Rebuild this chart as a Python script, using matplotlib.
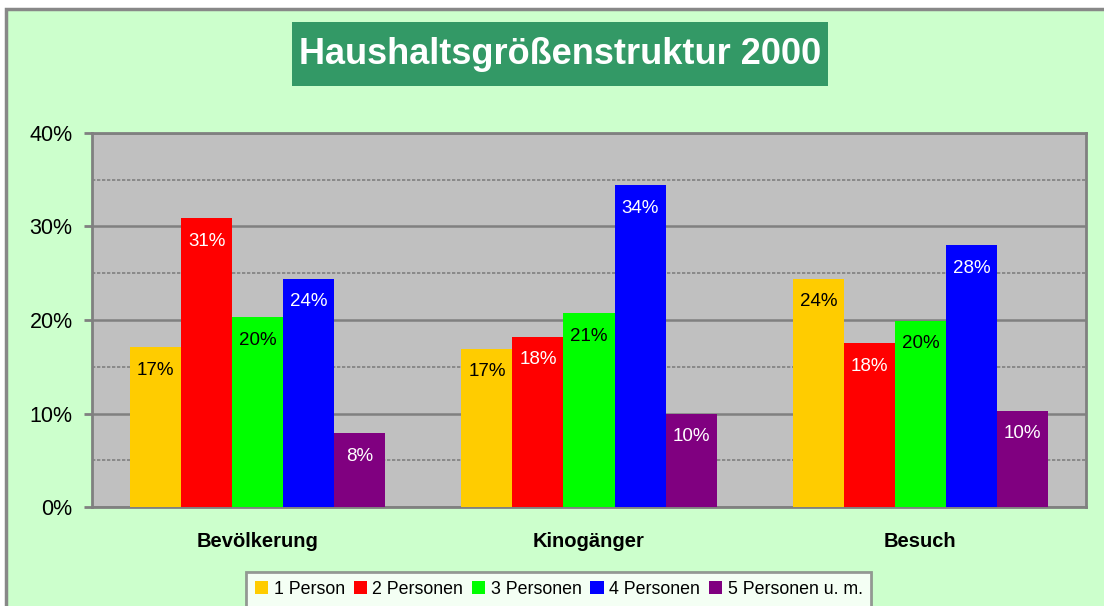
import matplotlib.pyplot as plt
import matplotlib.patches as mpatches
import numpy as np

plt.rcParams['font.family'] = ['Liberation Sans', 'DejaVu Sans']

# data
categories = ['Bevölkerung', 'Kinogänger', 'Besuch']
series = ['1 Person', '2 Personen', '3 Personen', '4 Personen', '5 Personen u. m.']
values = [
    [17.1, 16.9, 24.4],   # 1 Person
    [30.9, 18.2, 17.5],   # 2 Personen
    [20.3, 20.7, 19.9],   # 3 Personen
    [24.4, 34.4, 28.0],   # 4 Personen
    [7.9, 10.0, 10.3],    # 5 Personen u. m.
]
labels = [
    ['17%', '17%', '24%'],
    ['31%', '18%', '18%'],
    ['20%', '21%', '20%'],
    ['24%', '34%', '28%'],
    ['8%', '10%', '10%'],
]
colors = ['#FFCC00', '#FF0000', '#00FF00', '#0000FF', '#800080']
label_colors = ['black', 'white', 'black', 'white', 'white']

fig = plt.figure(figsize=(11.04, 6.06), dpi=100)
fig.patch.set_facecolor('white')

# light green chart area with grey border (left/top visible)
bg = mpatches.Rectangle((6 / 1104, -0.1), 1.2, 1 - 9 / 606 + 0.1,
                        transform=fig.transFigure, facecolor='#CCFFCC',
                        edgecolor='#888888', linewidth=2.5, zorder=-10)
fig.patches.append(bg)

ax = fig.add_axes([92 / 1104, 99 / 606, 994 / 1104, 374 / 606])
ax.set_facecolor('#C0C0C0')

x = np.arange(len(categories))
w = 0.154
for i, s in enumerate(series):
    pos = x + (i - 2) * w
    ax.bar(pos, values[i], width=w, color=colors[i], label=s, zorder=3)
    for px, v, lab in zip(pos, values[i], labels[i]):
        ax.annotate(lab, (px, v), xytext=(0, -16.5), textcoords='offset points',
                    ha='center', va='center', fontsize=13.5,
                    color=label_colors[i], zorder=4)

ax.set_xlim(-0.5, 2.5)
ax.set_ylim(0, 40)
ax.set_yticks([0, 10, 20, 30, 40])
ax.set_yticklabels(['0%', '10%', '20%', '30%', '40%'], fontsize=15.5)
ax.set_yticks([5, 15, 25, 35], minor=True)
ax.tick_params(axis='y', which='major', length=6, width=2, color='#808080', pad=8)
ax.tick_params(axis='y', which='minor', length=0)
ax.set_xticks(x)
ax.set_xticklabels(categories, fontsize=14.5, fontweight='bold')
ax.tick_params(axis='x', length=0, pad=18)

ax.grid(axis='y', which='major', color='#808080', linewidth=1.8, zorder=1)
ax.grid(axis='y', which='minor', color='#808080', linewidth=1.2,
        linestyle=(0, (2, 1)), zorder=1)
ax.set_axisbelow(True)
for sp in ax.spines.values():
    sp.set_color('#808080')
    sp.set_linewidth(2)

# title box
title_box = mpatches.Rectangle((292 / 1104, 1 - 86 / 606), 536 / 1104, 64 / 606,
                               transform=fig.transFigure, facecolor='#339966',
                               edgecolor='none', zorder=1)
fig.patches.append(title_box)
fig.text(560 / 1104, 1 - 54 / 606, 'Haushaltsgrößenstruktur 2000',
         ha='center', va='center', fontsize=26, fontweight='bold', color='white',
         zorder=2)

leg = fig.legend(loc='upper left', bbox_to_anchor=(246 / 1104, 1 - 572 / 606),
                 ncol=5, fontsize=12.8, frameon=True, fancybox=False,
                 borderaxespad=0, handlelength=0.75, handleheight=0.75,
                 handletextpad=0.3, columnspacing=0.5, borderpad=0.5)
leg.get_frame().set_edgecolor('#808080')
leg.get_frame().set_linewidth(2)
leg.get_frame().set_facecolor('white')

fig.savefig('out.png', dpi=100)
